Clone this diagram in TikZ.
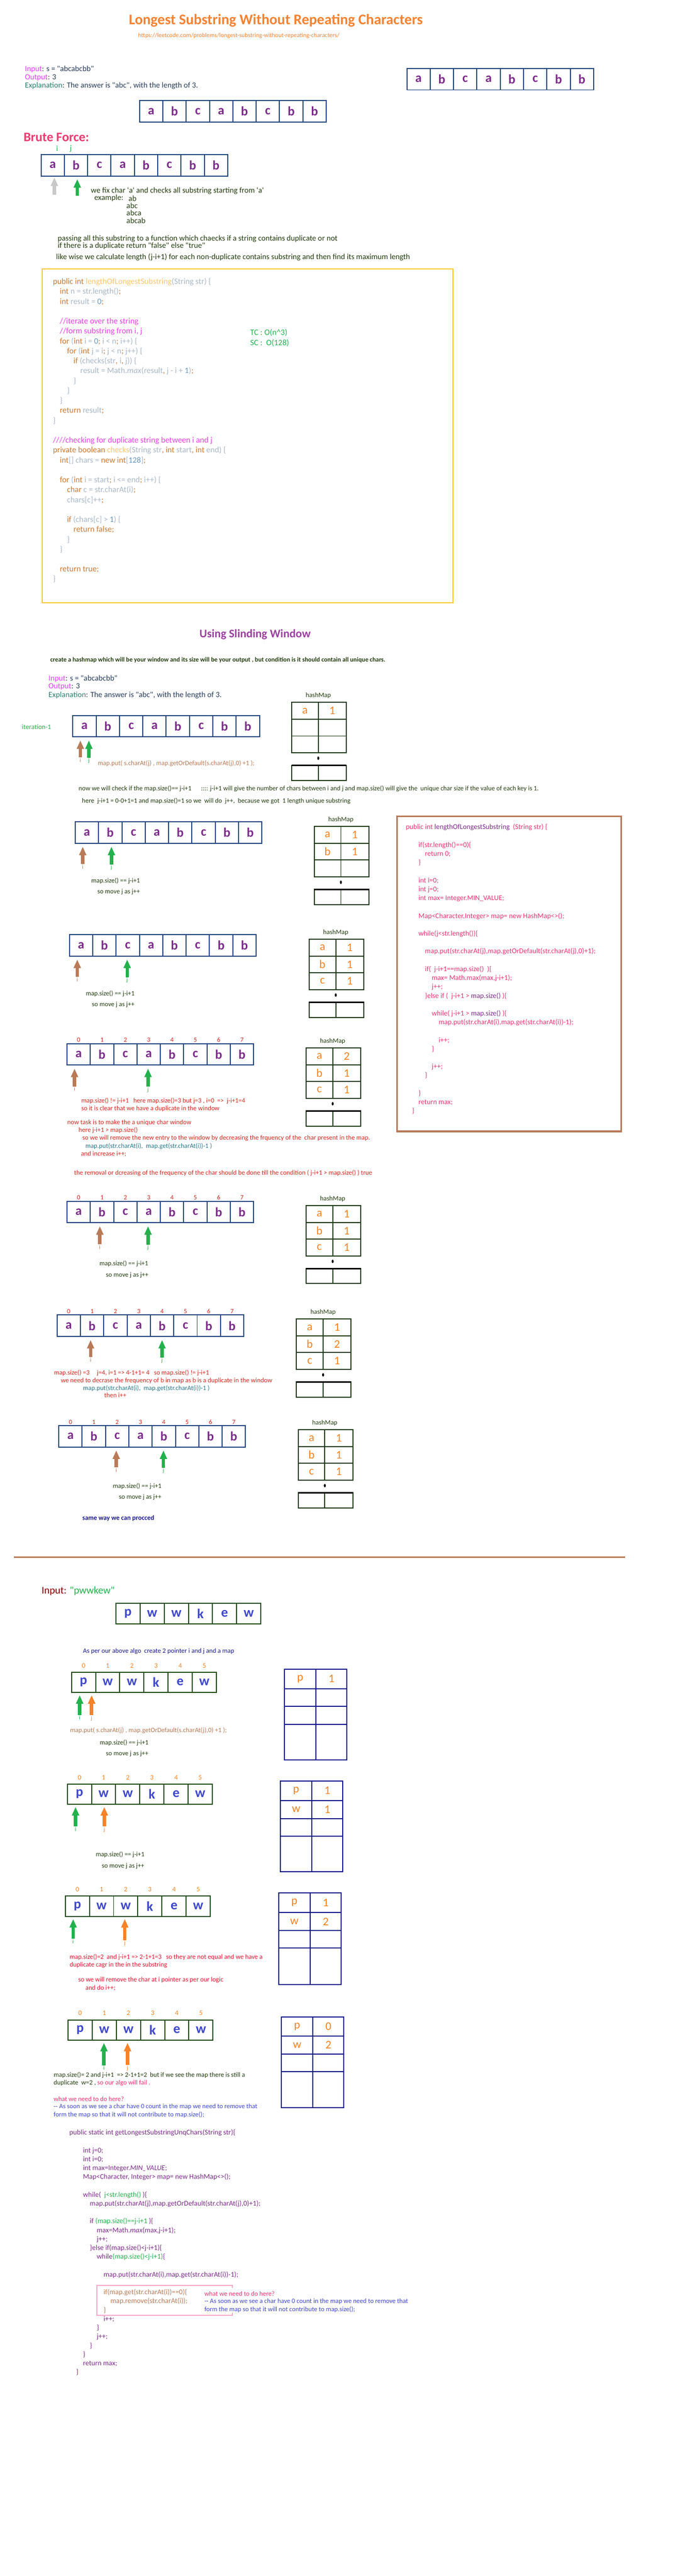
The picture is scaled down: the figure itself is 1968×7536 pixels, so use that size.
\documentclass[tikz,border=0pt]{standalone}
\usepackage{fontspec}
\setmainfont{Carlito}[Ligatures=TeXOff]
\usetikzlibrary{positioning,arrows.meta,shapes.geometric}

\definecolor{titleorange}{RGB}{245,130,50}
\definecolor{inmagenta}{RGB}{224,64,251}
\definecolor{explteal}{RGB}{42,128,110}
\definecolor{explnavy}{RGB}{40,60,90}
\definecolor{arrblue}{RGB}{31,68,128}
\definecolor{letterpurple}{RGB}{123,44,138}
\definecolor{bfpink}{RGB}{236,58,112}
\definecolor{dktext}{RGB}{35,60,15}
\definecolor{ptrgreen}{RGB}{34,177,76}
\definecolor{ptrbrown}{RGB}{185,122,87}
\definecolor{ptrgray}{RGB}{200,200,200}
\definecolor{ptrorange}{RGB}{247,130,40}
\definecolor{codeyellow}{RGB}{250,200,40}
\definecolor{kwcol}{RGB}{204,120,50}
\definecolor{fncol}{RGB}{255,198,109}
\definecolor{idcol}{RGB}{169,183,198}
\definecolor{numcol}{RGB}{104,151,187}
\definecolor{cmtcol}{RGB}{232,64,232}
\definecolor{swpurple}{RGB}{155,65,160}
\definecolor{mapgreen}{RGB}{30,58,20}
\definecolor{keyorange}{RGB}{245,130,32}
\definecolor{codepink}{RGB}{235,50,110}
\definecolor{notered}{RGB}{210,40,30}
\definecolor{brightred}{RGB}{232,17,45}
\definecolor{mapteal}{RGB}{40,120,140}
\definecolor{dkblue}{RGB}{26,26,140}
\definecolor{pwblue}{RGB}{63,72,204}
\definecolor{pwgreen}{RGB}{30,74,20}
\definecolor{mapblue}{RGB}{16,20,140}
\definecolor{inred}{RGB}{139,0,0}
\definecolor{boxpink}{RGB}{249,168,200}
\definecolor{idxred}{RGB}{200,40,30}

% code colours
\newcommand{\ckw}[1]{\textcolor{kwcol}{#1}}
\newcommand{\cfn}[1]{\textcolor{fncol}{#1}}
\newcommand{\cid}[1]{\textcolor{idcol}{#1}}
\newcommand{\cnum}[1]{\textcolor{numcol}{#1}}
\newcommand{\ccmt}[1]{\textcolor{cmtcol}{#1}}
\newcommand{\cind}[1]{\hspace*{#1pt}}

% a row of letter cells
\newcommand{\strrow}[4]{%
  \coordinate (#1-0) at (#2);
  \foreach \ch [count=\k, remember=\k as \p (initially 0)] in {#4}
    \node[#3, anchor=north west] (#1-\k) at (#1-\p.north east) {\ch};}
% index numbers over a row
\newcommand{\indexrow}[4]{%
  \foreach \k [count=\n from 0] in {1,...,#2}
    \node[#3, above=#4 of #1-\k] (#1-n\k) {\n};}
% hashMap of the sliding window part
\newcommand{\slidemap}[3]{%
  \coordinate (#1-0) at (#2);
  \foreach \kk/\vv [count=\r, remember=\r as \q (initially 0)] in {#3} {
    \node[mapkey, anchor=north west] (#1-\r) at (#1-\q.south west) {\kk};
    \node[mapval, anchor=north west] (#1-\r-v) at (#1-\r.north east) {\vv};
  }
  \node[maplabel, above=12pt of #1-1.north east] (#1-lab) {hashMap};
  \node[mapdot, below=11pt of #1-3.south east] (#1-dot) {};
  \node[mapkey, minimum height=44pt, anchor=north west] (#1-x) at ([yshift=-37pt]#1-3.south west) {};
  \node[mapval, minimum height=44pt, anchor=north west] (#1-x-v) at (#1-x.north east) {};
  \draw[line width=4pt] (#1-x.north west) -- (#1-x-v.north east);}
% map of the pwwkew part
\newcommand{\pwmap}[3]{%
  \coordinate (#1-0) at (#2);
  \foreach \kk/\vv/\hh [count=\r, remember=\r as \q (initially 0)] in {#3} {
    \node[pwkey, minimum height=\hh pt, anchor=north west] (#1-\r) at (#1-\q.south west) {\kk};
    \node[pwval, minimum height=\hh pt, anchor=north west] (#1-\r-v) at (#1-\r.north east) {\vv};
  }}
% pointer label with its arrow
\newcommand{\ptrmark}[6]{%
  \node[#2] (#1) at (#4) {#5};
  \draw[#3] (#1.north) -- (#1.north |- #6.south);}

\begin{document}
\begin{tikzpicture}[x=1pt,y=-1pt,inner sep=0pt,outer sep=0pt]
\tikzstyle{txt}=[anchor=west]
\tikzstyle{f19}=[font=\fontsize{19.3}{22}\selectfont]
\tikzstyle{f23}=[font=\fontsize{23}{26}\selectfont]
\tikzstyle{f24}=[font=\fontsize{24}{28}\selectfont]
\tikzstyle{cell}=[draw=arrblue,line width=3pt,minimum width=68.25pt,minimum height=63pt,
                  text=letterpurple,font=\fontsize{38}{40}\selectfont\bfseries]
\tikzstyle{pwcell}=[draw=pwgreen,line width=3pt,minimum width=70.67pt,minimum height=59pt,
                  text=pwblue,font=\fontsize{40}{42}\selectfont\bfseries]
\tikzstyle{idx}=[font=\fontsize{19}{20}\selectfont,text=idxred]
\tikzstyle{pwidx}=[font=\fontsize{20}{22}\selectfont,text=keyorange]
\tikzstyle{mapkey}=[draw=mapgreen,line width=3pt,minimum width=78pt,minimum height=49pt,
                  text=keyorange,font=\fontsize{34}{36}\selectfont]
\tikzstyle{mapval}=[mapkey,minimum width=82pt]
\tikzstyle{mapdot}=[ellipse,fill=black,minimum width=6pt,minimum height=10pt]
\tikzstyle{maplabel}=[font=\fontsize{19.5}{21}\selectfont,text=dktext]
\tikzstyle{pwkey}=[draw=mapblue,line width=3pt,minimum width=92pt,
                  text=keyorange,font=\fontsize{34}{36}\selectfont]
\tikzstyle{pwval}=[pwkey,minimum width=91pt]
\tikzstyle{ilab}=[font=\fontsize{17}{18}\selectfont,text=ptrbrown]
\tikzstyle{jlab}=[ilab,text=ptrgreen]
\tikzstyle{pwilab}=[ilab,text=ptrgreen]
\tikzstyle{pwjlab}=[ilab,text=ptrorange]
\tikzstyle{iptr}=[draw=ptrbrown,line width=10pt,-{Triangle[width=20pt,length=25pt]},
                  shorten <=2pt,shorten >=10pt]
\tikzstyle{jptr}=[iptr,draw=ptrgreen]
\tikzstyle{grayptr}=[iptr,draw=ptrgray]
\tikzstyle{pwiptr}=[iptr,draw=ptrgreen,shorten >=8pt]
\tikzstyle{pwjptr}=[iptr,draw=ptrorange,shorten >=8pt]

\fill[white] (0,0) rectangle (1968,7536);
\useasboundingbox (0,0) rectangle (1968,7536);

% title
\node[txt,font=\fontsize{43}{46}\selectfont\bfseries,text=titleorange] (title) at (377,60)
  {Longest Substring Without Repeating Characters};
\node[txt,font=\fontsize{18}{20}\selectfont,text=titleorange] (url) at (404,104)
  {https://leetcode.com/problems/longest-substring-without-repeating-characters/};

\node[txt,f23,text=explnavy] (in1) at (73,203) {\textcolor{inmagenta}{Input}: s = "abcabcbb"};
\node[txt,f23,text=explnavy] (out1) at (73,227) {\textcolor{inmagenta}{Output}: 3};
\node[txt,f23,text=explnavy] (exp1) at (73,251)
  {\textcolor{explteal}{Explanation}: The answer is "abc", with the length of 3.};

\strrow{top}{1190,200}{cell}{a,b,c,a,b,c,b,b}
\strrow{mid}{408,294}{cell}{a,b,c,a,b,c,b,b}

% brute force
\node[txt,font=\fontsize{38}{40}\selectfont\bfseries,text=bfpink] (brute) at (69,401) {Brute Force:};
\node[f23,text=ptrgreen] (bfilab) at (167,435) {i};
\node[f23,text=ptrgreen] (bfjlab) at (207,435) {j};
\strrow{bf}{120,452}{cell}{a,b,c,a,b,c,b,b}
\coordinate (bfi) at (159,572);
\coordinate (bfj) at (226,574);
\draw[grayptr,shorten >=4pt] (bfi) -- (bfi |- bf-1.south);
\draw[jptr,shorten >=9pt] (bfj) -- (bfj |- bf-2.south);

\node[txt,f23,text=dktext] (bffix) at (266,558) {we fix char 'a' and checks all substring starting from 'a'};
\node[txt,f23,text=dktext] (bfex) at (276,580) {example:};
\node[txt,f23,text=dktext] (bfex1) at (376,580) {ab};
\node[txt,f23,text=dktext] (bfex2) at (370,602) {abc};
\node[txt,f23,text=dktext] (bfex3) at (370,623) {abca};
\node[txt,f23,text=dktext] (bfex4) at (370,645) {abcab};
\node[txt,f23,text=dktext] (bfpass) at (169,698)
  {passing all this substring to a function which chaecks if a string contains duplicate or not};
\node[txt,f23,text=dktext] (bfdup) at (169,720) {if there is a duplicate return "false" else "true"};
\node[txt,f23,text=dktext] (bflike) at (164,752)
  {like wise we calculate length (j-i+1) for each non-duplicate contains substring and then find its maximum length};

% brute force code
\draw[codeyellow,line width=3pt] (123,786) rectangle (1325,1763);
\node[anchor=north west,align=left,font=\fontsize{24}{29}\selectfont,text=idcol] (bfcode) at (155,814) {%
\ckw{public int} \cfn{lengthOfLongestSubstring}\cid{(String str) \{}\\
\cind{20}\ckw{int} \cid{n = str.length()}\ckw{;}\\
\cind{20}\ckw{int} \cid{result =} \cnum{0}\ckw{;}\\
\mbox{}\\
\cind{20}\ccmt{//iterate over the string}\\
\cind{20}\ccmt{//form substring from i, j}\\
\cind{20}\ckw{for} \cid{(}\ckw{int} \cid{i =} \cnum{0}\ckw{;} \cid{i < n}\ckw{;} \cid{i++) \{}\\
\cind{41}\ckw{for} \cid{(}\ckw{int} \cid{j = i}\ckw{;} \cid{j < n}\ckw{;} \cid{j++) \{}\\
\cind{60}\ckw{if} \cid{(checks(str}\ckw{,} \cid{i}\ckw{,} \cid{j)) \{}\\
\cind{80}\cid{result = Math.\textit{max}(result}\ckw{,} \cid{j - i +} \cnum{1}\cid{)}\ckw{;}\\
\cind{60}\cid{\}}\\
\cind{41}\cid{\}}\\
\cind{20}\cid{\}}\\
\cind{20}\ckw{return} \cid{result}\ckw{;}\\
\cid{\}}\\
\mbox{}\\
\ccmt{////checking for duplicate string between i and j}\\
\ckw{private boolean} \cfn{checks}\cid{(String str}\ckw{, int} \cid{start}\ckw{, int} \cid{end) \{}\\
\cind{20}\ckw{int}\cid{[] chars =} \ckw{new int}\cid{[}\cnum{128}\cid{]}\ckw{;}\\
\mbox{}\\
\cind{20}\ckw{for} \cid{(}\ckw{int} \cid{i = start}\ckw{;} \cid{i <= end}\ckw{;} \cid{i++) \{}\\
\cind{41}\ckw{char} \cid{c = str.charAt(i)}\ckw{;}\\
\cind{41}\cid{chars[c]++}\ckw{;}\\
\mbox{}\\
\cind{41}\ckw{if} \cid{(chars[c] >} \cnum{1}\cid{) \{}\\
\cind{60}\ckw{return false;}\\
\cind{41}\cid{\}}\\
\cind{20}\cid{\}}\\
\mbox{}\\
\cind{20}\ckw{return true;}\\
\cid{\}}};
\node[txt,f24,text=ptrgreen] (tc) at (732,974) {TC : O(n\textasciicircum3)};
\node[txt,f24,text=ptrgreen] (sc) at (732,1003) {SC :\ \ O(128)};

% sliding window
\node[font=\fontsize{34}{38}\selectfont\bfseries,text=swpurple] (swtitle) at (746,1856) {Using Slinding Window};
\node[txt,font=\fontsize{18.5}{21}\selectfont\bfseries,text=dktext] (swidea) at (147,1931)
  {create a hashmap which will be your window and its size will be your output , but condition is it should contain all unique chars.};
\node[txt,f23,text=explnavy] (in2) at (142,1985) {\textcolor{inmagenta}{Input}: s = "abcabcbb"};
\node[txt,f23,text=explnavy] (out2) at (142,2009) {\textcolor{inmagenta}{Output}: 3};
\node[txt,f23,text=explnavy] (exp2) at (142,2034)
  {\textcolor{explteal}{Explanation}: The answer is "abc", with the length of 3.};

% iteration 1
\node[txt,font=\fontsize{20}{22}\selectfont,text=ptrgreen] (iter1) at (64,2127) {iteration-1};
\strrow{S1}{213,2093}{cell}{a,b,c,a,b,c,b,b}
\ptrmark{S1i}{ilab}{iptr}{235,2224}{i}{S1-1}
\ptrmark{S1j}{jlab}{jptr}{260,2226}{j}{S1-1}
\node[txt,f19,text=ptrbrown] (S1put) at (286,2233) {map.put( s.charAt(j) , map.getOrDefault(s.charAt(j),0) +1 );};
\slidemap{H1}{853,2055}{a/1,~/~,~/~}
\node[txt,f19,text=dktext] (S1chk) at (230,2307)
  {now we will check if the map.size()== j-i+1 \quad\ :::: j-i+1 will give the number of chars between i and j and map.size() will give the\ \ unique char size if the value of each key is 1.};
\node[txt,f19,text=dktext] (S1here) at (240,2343)
  {here\ \ j-i+1 = 0-0+1=1 and map.size()=1 so we\ \ will do\ \ j++,\ \ because we got\ \ 1 length unique substring};

% iteration 2
\strrow{S2}{220,2404}{cell}{a,b,c,a,b,c,b,b}
\ptrmark{S2i}{ilab}{iptr}{242,2536}{i}{S2-1}
\ptrmark{S2j}{jlab}{jptr}{326,2538}{j}{S2-2}
\node[txt,f19,text=dktext] (S2eq) at (267,2577) {map.size() == j-i+1};
\node[txt,f19,text=dktext] (S2mv) at (285,2609) {so move j as j++};
\slidemap{H2}{919,2418}{a/1,b/1,~/~}

% sliding window code
\draw[ptrbrown,line width=5pt] (1161,2388) rectangle (1817,3310);
\node[anchor=north west,align=left,font=\fontsize{21}{25.95}\selectfont,text=codepink] (swcode) at (1187,2411) {%
public int \textcolor{letterpurple}{lengthOfLongestSubstring}\ \ (String str) \{\\
\mbox{}\\
\cind{37}if(str.length()==0)\{\\
\cind{56}return 0;\\
\cind{37}\}\\
\mbox{}\\
\cind{37}int i=0;\\
\cind{37}int j=0;\\
\cind{37}int max= Integer.MIN\_VALUE;\\
\mbox{}\\
\cind{37}Map<Character,Integer> map= new HashMap<>();\\
\mbox{}\\
\cind{37}while(j<str.length())\{\\
\mbox{}\\
\cind{56}map.put(str.charAt(j),map.getOrDefault(str.charAt(j),0)+1);\\
\mbox{}\\
\cind{56}if(\ \ j-i+1==map.size()\ \ )\{\\
\cind{76}max= Math.max(max,j-i+1);\\
\cind{76}j++;\\
\cind{56}\}else if (\ \ j-i+1 > \textcolor{letterpurple}{map.size()} )\{\\
\mbox{}\\
\cind{76}while( j-i+1 > \textcolor{letterpurple}{map.size()} )\{\\
\cind{96}map.put(str.charAt(i),map.get(str.charAt(i))-1);\\
\mbox{}\\
\cind{96}i++;\\
\cind{76}\}\\
\mbox{}\\
\cind{76}j++;\\
\cind{56}\}\\
\mbox{}\\
\cind{37}\}\\
\cind{37}return max;\\
\cind{18}\}};

% iteration 3
\strrow{S3}{203,2734}{cell}{a,b,c,a,b,c,b,b}
\ptrmark{S3i}{ilab}{iptr}{226,2866}{i}{S3-1}
\ptrmark{S3j}{jlab}{jptr}{372,2868}{j}{S3-3}
\node[txt,f19,text=dktext] (S3eq) at (251,2907) {map.size() == j-i+1};
\node[txt,f19,text=dktext] (S3mv) at (269,2939) {so move j as j++};
\slidemap{H3}{904,2748}{a/1,b/1,c/1}

% iteration 4
\strrow{S4}{196,3053}{cell}{a,b,c,a,b,c,b,b}
\indexrow{S4}{8}{idx}{4pt}
\ptrmark{S4i}{ilab}{iptr}{218,3186}{i}{S4-1}
\ptrmark{S4j}{jlab}{jptr}{433,3188}{j}{S4-4}
\slidemap{H4}{895,3066}{a/2,b/1,c/1}
\node[txt,f19,text=notered] (S4n1) at (238,3221) {map.size() != j-i+1\ \ \ here map.size()=3 but j=3 , i=0\ \ =>\ \ j-i+1=4};
\node[txt,f19,text=notered] (S4n2) at (238,3244) {so it is clear that we have a duplicate in the window};
\node[txt,f19,text=notered] (S4n3) at (197,3284) {now task is to make the a unique char window};
\node[txt,f19,text=notered] (S4n4) at (230,3307) {here j-i+1 > map.size()};
\node[txt,f19,text=notered] (S4n5) at (241,3330)
  {so we will remove the new entry to the window by decreasing the frquency of the\ \ char present in the map.};
\node[txt,f19,text=mapteal] (S4n6) at (250,3353) {map.put(str.charAt(i),\ \ map.get(str.charAt(i))-1 )};
\node[txt,f19,text=notered] (S4n7) at (237,3376) {and increase i++;};
\node[txt,f19,text=notered] (S4n8) at (217,3431)
  {the removal or dcreasing of the frequency of the char should be done till the condition ( j-i+1 > map.size() ) true};

% iteration 5
\strrow{S5}{196,3514}{cell}{a,b,c,a,b,c,b,b}
\indexrow{S5}{8}{idx}{4pt}
\ptrmark{S5i}{ilab}{iptr}{292,3648}{i}{S5-2}
\ptrmark{S5j}{jlab}{jptr}{433,3650}{j}{S5-4}
\node[txt,f19,text=dktext] (S5eq) at (291,3697) {map.size() == j-i+1};
\node[txt,f19,text=dktext] (S5mv) at (310,3730) {so move j as j++};
\slidemap{H5}{895,3527}{a/1,b/1,c/1}

% iteration 6
\strrow{S6}{167,3847}{cell}{a,b,c,a,b,c,b,b}
\indexrow{S6}{8}{idx}{4pt}
\ptrmark{S6i}{ilab}{iptr}{265,3978}{i}{S6-2}
\ptrmark{S6j}{jlab}{jptr}{474,3980}{j}{S6-5}
\slidemap{H6}{867,3859}{a/1,b/2,c/1}
\node[txt,f19,text=notered] (S6n1) at (158,4016) {map.size() =3\ \ \ \ \ j=4, i=1 => 4-1+1= 4\ \ \ so map.size() != j-i+1};
\node[txt,f19,text=notered] (S6n2) at (178,4039) {we need to decrase the frequency of b in map as b is a duplicate in the window};
\node[txt,f19,text=mapteal] (S6n3) at (243,4062) {map.put(str.charAt(i),\ \ map.get(str.charAt(i))-1 )};
\node[txt,f19,text=notered] (S6n4) at (305,4082) {then i++};

% iteration 7
\strrow{S7}{172,4170}{cell}{a,b,c,a,b,c,b,b}
\indexrow{S7}{8}{idx}{4pt}
\ptrmark{S7i}{ilab}{iptr}{340,4301}{i}{S7-3}
\ptrmark{S7j}{jlab}{jptr}{478,4303}{j}{S7-5}
\node[txt,f19,text=dktext] (S7eq) at (330,4348) {map.size() == j-i+1};
\node[txt,f19,text=dktext] (S7mv) at (348,4380) {so move j as j++};
\slidemap{H7}{872,4183}{a/1,b/1,c/1}
\node[txt,font=\fontsize{19.5}{22}\selectfont\bfseries,text=dkblue] (same) at (241,4441) {same way we can procced};

\draw[ptrbrown,line width=5pt] (40,4555) -- (1828,4555);

% pwwkew
\node[txt,font=\fontsize{30}{34}\selectfont,text=ptrgreen] (in3) at (122,4654) {\textcolor{inred}{Input:} "pwwkew"};
\strrow{P0}{339,4691}{pwcell}{p,w,w,k,e,w}
\node[txt,f19,text=dkblue] (algo) at (243,4831) {As per our above algo\ \ create 2 pointer i and j and a map};

\strrow{P1}{209,4892}{pwcell}{p,w,w,k,e,w}
\indexrow{P1}{6}{pwidx}{13pt}
\ptrmark{P1i}{pwilab}{pwiptr}{233,5025}{i}{P1-1}
\ptrmark{P1j}{pwjlab}{pwjptr}{268,5027}{j}{P1-1}
\node[txt,f19,text=ptrbrown] (P1put) at (205,5062) {map.put( s.charAt(j) , map.getOrDefault(s.charAt(j),0) +1 );};
\node[txt,f19,text=dktext] (P1eq) at (292,5099) {map.size() == j-i+1};
\node[txt,f19,text=dktext] (P1mv) at (310,5131) {so move j as j++};
\pwmap{B1}{832,4883}{p/1/57,~/~/52,~/~/52,~/~/105}

\strrow{P2}{197,5219}{pwcell}{p,w,w,k,e,w}
\indexrow{P2}{6}{pwidx}{13pt}
\ptrmark{P2i}{pwilab}{pwiptr}{221,5351}{i}{P2-1}
\ptrmark{P2j}{pwjlab}{pwjptr}{305,5353}{j}{P2-2}
\node[txt,f19,text=dktext] (P2eq) at (280,5426) {map.size() == j-i+1};
\node[txt,f19,text=dktext] (P2mv) at (298,5459) {so move j as j++};
\pwmap{B2}{820,5210}{p/1/57,w/1/53,~/~/51,~/~/105}

\strrow{P3}{191,5547}{pwcell}{p,w,w,k,e,w}
\indexrow{P3}{6}{pwidx}{13pt}
\ptrmark{P3i}{pwilab}{pwiptr}{214,5680}{i}{P3-1}
\ptrmark{P3j}{pwjlab}{pwjptr}{365,5685}{j}{P3-3}
\pwmap{B3}{815,5538}{p/1/57,w/2/53,~/~/51,~/~/106}
\node[txt,f19,text=brightred] (P3n1) at (204,5725) {map.size()=2\ \ and j-i+1 => 2-1+1=3\ \ \ so they are not equal and we have a};
\node[txt,f19,text=brightred] (P3n2) at (204,5748) {duplicate cagr in the in the substring};
\node[txt,f19,text=brightred] (P3n3) at (229,5793) {so we will remove the char at i pointer as per our logic};
\node[txt,f19,text=brightred] (P3n4) at (250,5816) {and do i++;};

\strrow{P4}{199,5909}{pwcell}{p,w,w,k,e,w}
\indexrow{P4}{6}{pwidx}{13pt}
\ptrmark{P4i}{pwilab}{pwiptr}{304,6050}{i}{P4-2}
\ptrmark{P4j}{pwjlab}{pwjptr}{373,6050}{j}{P4-3}
\pwmap{B4}{823,5900}{p/0/57,w/2/52,~/~/52,~/~/105}
\node[txt,f19,text=dktext] (P4n1) at (157,6071) {map.size()= 2 and j-i+1\ \ => 2-1+1=2\ \ but if we see the map there is still a};
\node[txt,f19,text=dktext] (P4n2) at (157,6094) {duplicate\ \ w=2 , \textcolor{codepink}{so our algo will fail .}};
\node[txt,f19,text=codepink] (P4q) at (157,6140) {what we need to do here?};
\node[txt,f19,text=pwblue] (P4a1) at (157,6163) {-- As soon as we see a char have 0 count in the map we need to remove that};
\node[txt,f19,text=pwblue] (P4a2) at (157,6186) {form the map so that it will not contribute to map.size();};

% final code
\node[anchor=north west,align=left,font=\fontsize{21}{25.96}\selectfont,text=letterpurple] (pwcode) at (203,6230) {%
public static int getLongestSubstringUnqChars(String str)\{\\
\mbox{}\\
\cind{40}int j=0;\\
\cind{40}int i=0;\\
\cind{40}int max=Integer.\textit{MIN\_VALUE};\\
\cind{40}Map<Character, Integer> map= new HashMap<>();\\
\mbox{}\\
\cind{40}while(\ \ \textcolor{ptrgreen}{j<str.length()} )\{\\
\cind{60}map.put(str.charAt(j),map.getOrDefault(str.charAt(j),0)+1);\\
\mbox{}\\
\cind{60}if \textcolor{ptrgreen}{(map.size()==j-i+1} )\{\\
\cind{80}max=Math.\textit{max}(max,j-i+1);\\
\cind{80}j++;\\
\cind{60}\}else if(map.size()<j-i+1)\{\\
\cind{80}while\textcolor{ptrgreen}{(map.size()<j-i+1)}\{\\
\mbox{}\\
\cind{100}map.put(str.charAt(i),map.get(str.charAt(i))-1);\\
\mbox{}\\
\cind{100}\textcolor{ptrbrown}{if(map.get(str.charAt(i))==0)\{}\\
\cind{120}\textcolor{ptrbrown}{map.remove(str.charAt(i));}\\
\cind{100}\textcolor{ptrbrown}{\}}\\
\cind{100}i++;\\
\cind{80}\}\\
\cind{80}j++;\\
\cind{60}\}\\
\cind{40}\}\\
\cind{40}return max;\\
\cind{20}\}};
\draw[boxpink,line width=3pt] (680,6693) -- (680,6686) -- (283,6686) -- (283,6773) -- (680,6773) -- (680,6766);
\node[txt,f19,text=codepink] (noteq) at (598,6710) {what we need to do here?};
\node[txt,f19,text=pwblue] (notea1) at (598,6733) {-- As soon as we see a char have 0 count in the map we need to remove that};
\node[txt,f19,text=pwblue] (notea2) at (598,6757) {form the map so that it will not contribute to map.size();};
\end{tikzpicture}
\end{document}
